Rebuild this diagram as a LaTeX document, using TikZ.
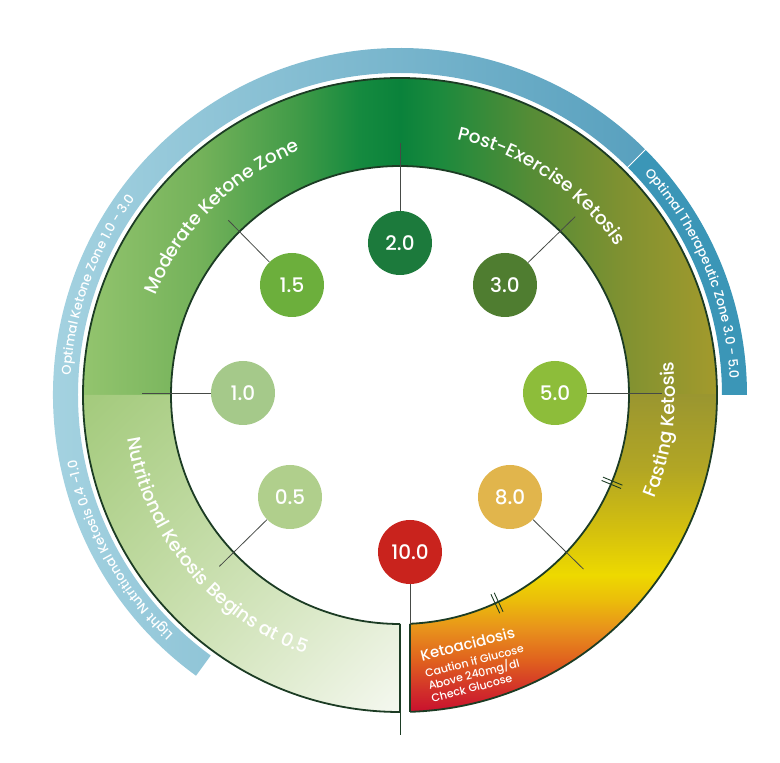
\documentclass[tikz,border=0pt]{standalone}
\usepackage{fontspec}
\setmainfont{Poppins Medium}
\usepackage{tikz}
\usetikzlibrary{decorations.text, shadings}
\definecolor{ringdark}{RGB}{28,60,36}
\definecolor{linkgray}{RGB}{70,74,70}
\definecolor{bandlight}{RGB}{170,214,227}
\definecolor{banddeep}{RGB}{88,160,190}
\definecolor{bandteal}{RGB}{59,150,183}
% top of the ring, left to right
\definecolor{tgA}{RGB}{147,196,110}
\definecolor{tgB}{RGB}{116,178,90}
\definecolor{tgC}{RGB}{63,154,71}
\definecolor{tgD}{RGB}{21,138,63}
\definecolor{tgE}{RGB}{10,130,59}
\definecolor{tgF}{RGB}{28,138,61}
\definecolor{tgG}{RGB}{85,140,54}
\definecolor{tgH}{RGB}{127,145,49}
\definecolor{tgI}{RGB}{163,154,44}
% right side of the ring, bottom to top
\definecolor{rgA}{RGB}{154,150,48}
\definecolor{rgB}{RGB}{178,166,36}
\definecolor{rgC}{RGB}{212,192,14}
\definecolor{rgD}{RGB}{237,217,0}
\definecolor{rgE}{RGB}{235,190,10}
\definecolor{rgF}{RGB}{232,144,28}
\definecolor{rgG}{RGB}{224,98,30}
\definecolor{rgH}{RGB}{210,48,42}
\definecolor{rgI}{RGB}{200,16,46}
% lower left piece
\definecolor{llA}{RGB}{163,202,124}
\definecolor{llB}{RGB}{200,222,170}
\definecolor{llC}{RGB}{245,248,240}
% bubbles
\definecolor{bubA}{RGB}{176,207,140}
\definecolor{bubB}{RGB}{165,201,138}
\definecolor{bubC}{RGB}{108,175,60}
\definecolor{bubD}{RGB}{28,122,60}
\definecolor{bubE}{RGB}{79,125,48}
\definecolor{bubF}{RGB}{141,189,58}
\definecolor{bubG}{RGB}{225,181,76}
\definecolor{bubH}{RGB}{201,35,29}
\pgfdeclarehorizontalshading{topring}{100bp}{color(0bp)=(tgA); color(25bp)=(tgA);
  color(34.2bp)=(tgB); color(42.1bp)=(tgC); color(46.8bp)=(tgD); color(50bp)=(tgE);
  color(53.2bp)=(tgF); color(60.3bp)=(tgG); color(67.4bp)=(tgH); color(75bp)=(tgI); color(100bp)=(tgI)}
\pgfdeclareverticalshading{sidering}{100bp}{color(0bp)=(rgI); color(25bp)=(rgI);
  color(28.5bp)=(rgH); color(33.2bp)=(rgG); color(37.9bp)=(rgF); color(42.7bp)=(rgE);
  color(46.6bp)=(rgD); color(53.7bp)=(rgC); color(63.2bp)=(rgB); color(75bp)=(rgA); color(100bp)=(rgA)}
\newcommand\ringfont{\fontsize{18.5}{19}\selectfont\color{white}}
\newcommand\bandfont{\fontsize{13}{13}\selectfont\color{white}}
\tikzset{
  bubble/.style={circle, minimum size=64pt, inner sep=0pt, text=white,
    font=\fontsize{20}{20}\selectfont},
  link/.style={draw=linkgray, line width=0.8pt},
  rim/.style={draw=ringdark, line width=1.8pt},
  brk/.style={draw=ringdark, line width=0.9pt},
  ketonote/.style={text=white, align=left, inner sep=0pt,
    font=\fontsize{11}{12.8}\selectfont},
  ringtext/.style={decorate, decoration={text along path, text align=center,
    text={|\ringfont|#1}}},
  bandtext/.style={decorate, decoration={text along path, text align=center,
    text={|\bandfont|#1}}}
}
\begin{document}
\begin{tikzpicture}[x=1pt, y=1pt]
  \useasboundingbox (-400,-368) rectangle (380,395);
  % outer bands
  \shade[left color=bandlight, right color=banddeep]
    (234:322) -- (234:347) arc[start angle=234, end angle=45, radius=347]
    -- (45:322) arc[start angle=45, end angle=234, radius=322] -- cycle;
  \fill[bandteal] (45:322) -- (45:347) arc[start angle=45, end angle=0, radius=347]
    -- (0:322) arc[start angle=0, end angle=45, radius=322] -- cycle;
  \draw[white, line width=1pt] (45:321) -- (45:348);
  % ring, top and right
  \begin{scope}
    \clip (180:229) -- (180:317) arc[start angle=180, end angle=-88.19, radius=317]
      -- (10,-228.78) arc[start angle=-87.5, end angle=180, radius=229] -- cycle;
    \shade[shading=topring] (-317,0) rectangle (317,317);
    \shade[shading=sidering] (0,-317) rectangle (317,0.5);
  \end{scope}
  % ring, lower left
  \shade[upper left=llA, upper right=llB, lower left=llB, lower right=llC]
    (180:229) -- (180:317) arc[start angle=180, end angle=270, radius=317]
    -- (0,-229) arc[start angle=270, end angle=180, radius=229] -- cycle;
  \draw[rim] (270:317) arc[start angle=270, end angle=-88.19, radius=317];
  \draw[rim] (270:229) arc[start angle=270, end angle=-87.5, radius=229];
  \coordinate (cutL) at (0,-229);
  \coordinate (cutLo) at (0,-317);
  \coordinate (cutLend) at (0,-340);
  \coordinate (cutR) at (10,-228.78);
  \coordinate (cutRo) at (10,-316.84);
  \draw[rim] (cutL) -- (cutLo);
  \draw[link, draw=ringdark] (cutLo) -- (cutLend);
  \draw[rim] (cutR) -- (cutRo);
  % break marks
  \foreach \a in {-22.5,-65}{
    \draw[brk, rotate=\a] (219,1.8) -- (240,1.8);
    \draw[brk, rotate=\a] (219,-1.8) -- (240,-1.8);
  }
  % zone names
  \path[ringtext=Moderate Ketone Zone] (165:264) arc[start angle=165, end angle=105, radius=264];
  \path[ringtext=Post-Exercise Ketosis] (86:262) arc[start angle=86, end angle=26, radius=262];
  \path[ringtext=Fasting Ketosis] (-40:275) arc[start angle=-40, end angle=25, radius=275];
  \path[ringtext=Nutritional Ketosis Begins at 0.5] (172:276) arc[start angle=172, end angle=267, radius=276];
  \path[bandtext=Optimal Ketone Zone 1.0 - 3.0] (195:330) arc[start angle=195, end angle=125, radius=330];
  \path[bandtext=Light Nutritional Ketosis 0.4 -1.0] (240:330) arc[start angle=240, end angle=178, radius=330];
  \path[bandtext=Optimal Therapeutic Zone 3.0 - 5.0] (50:330) arc[start angle=50, end angle=-5, radius=330];
  \node[ketonote, rotate=14.5, anchor=north west] (keto) at (19,-255)
    {{\fontsize{15}{16}\selectfont Ketoacidosis}\\[4pt]Caution if Glucose\\Above 240mg/dl\\Check Glucose};
  % readings
  \node[bubble, fill=bubD] (b20) at (0,152) {2.0};
  \node[bubble, fill=bubC] (b15) at (-108,110) {1.5};
  \node[bubble, fill=bubE] (b30) at (105,110) {3.0};
  \node[bubble, fill=bubB] (b10) at (-157,2) {1.0};
  \node[bubble, fill=bubF] (b50) at (155,2) {5.0};
  \node[bubble, fill=bubA] (b05) at (-110,-102) {0.5};
  \node[bubble, fill=bubG] (b80) at (110,-102) {8.0};
  \node[bubble, fill=bubH] (b100) at (10,-157) {10.0};
  \coordinate (e20) at (90:252);
  \coordinate (e15) at (134.5:245);
  \coordinate (e30) at (45.5:250);
  \coordinate (e10) at (-258,2);
  \coordinate (e50) at (262,2);
  \coordinate (e05) at (223.5:249);
  \coordinate (e80) at (-43.5:253);
  \draw[link] (b20) -- (e20);
  \draw[link] (b15) -- (e15);
  \draw[link] (b30) -- (e30);
  \draw[link] (b10) -- (e10);
  \draw[link] (b50) -- (e50);
  \draw[link] (b05) -- (e05);
  \draw[link] (b80) -- (e80);
  \draw[link] (b100) -- (cutR);
\end{tikzpicture}
\end{document}
